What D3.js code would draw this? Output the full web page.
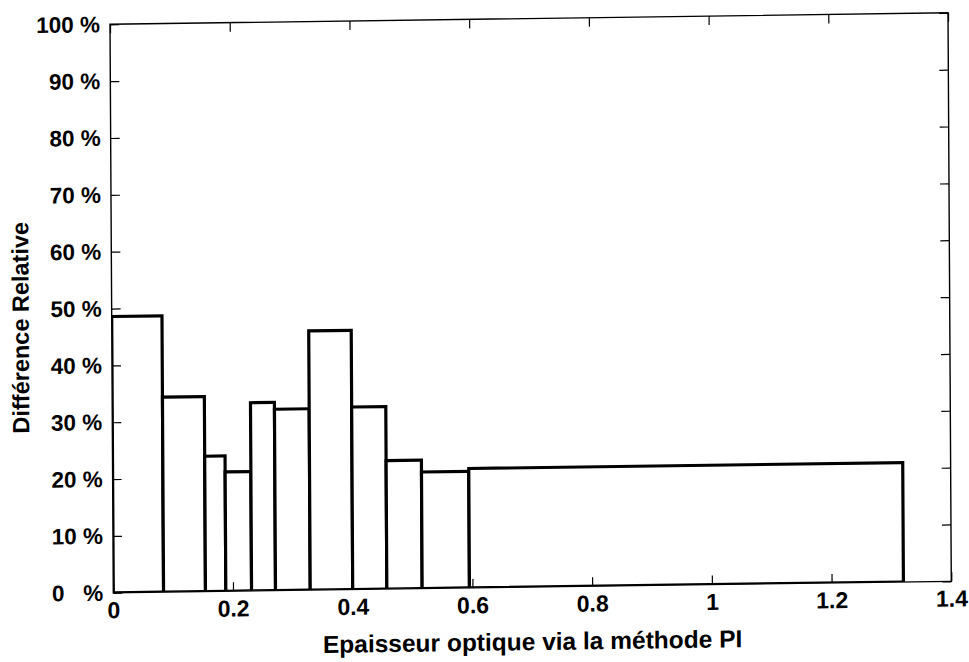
<!DOCTYPE html>
<html>
<head>
<meta charset="utf-8">
<script src="https://cdn.jsdelivr.net/npm/d3@7"></script>
<style>
  html, body { margin: 0; padding: 0; background: #fff; }
  svg { display: block; }
  text { font-family: "Liberation Sans", Arial, Helvetica, sans-serif; font-weight: bold; fill: #000; }
</style>
</head>
<body>
<svg id="chart" width="969" height="662"></svg>
<script>
// ---- data ----
const binStart = [0, 0.084, 0.154, 0.188, 0.231, 0.271, 0.329, 0.400, 0.457, 0.516, 0.595];
const binEnd   = [0.084, 0.154, 0.188, 0.231, 0.271, 0.329, 0.400, 0.457, 0.516, 0.595, 1.32];
const values   = [48.6, 34.3, 23.8, 21.0, 33.1, 31.9, 45.6, 32.1, 22.6, 20.5, 21.0];

const xTicks = [0, 0.2, 0.4, 0.6, 0.8, 1.0, 1.2, 1.4];
const xTickLabels = ["0", "0.2", "0.4", "0.6", "0.8", "1", "1.2", "1.4"];
const yTicks = [0, 10, 20, 30, 40, 50, 60, 70, 80, 90, 100];
const yTickLabels = ["0   %", "10 %", "20 %", "30 %", "40 %", "50 %", "60 %", "70 %", "80 %", "90 %", "100 %"];

const xTitle = "Epaisseur optique via la méthode PI";
const yTitle = "Différence Relative";

// ---- layout ----
const W = 838, H = 568.5;
const svg = d3.select("#chart");
svg.append("rect").attr("width", 969).attr("height", 662).attr("fill", "#fff");

// slight skew/rotation, as in the scanned original
const g = svg.append("g")
  .attr("transform", "matrix(1,-0.0137,0.0058,1,110,24.3)");

const x = d3.scaleLinear().domain([0, 1.4]).range([0, W]);
const y = d3.scaleLinear().domain([0, 100]).range([H, 0]);

g.append("clipPath").attr("id", "plotclip")
  .append("rect").attr("x", 0).attr("y", 0).attr("width", W).attr("height", H);

// bars
const bars = values.map((v, i) => ({ x0: binStart[i], x1: binEnd[i], v }));
g.append("g").attr("clip-path", "url(#plotclip)")
  .selectAll("rect").data(bars).join("rect")
  .attr("x", d => x(d.x0))
  .attr("y", d => y(d.v))
  .attr("width", d => x(d.x1) - x(d.x0))
  .attr("height", d => y(0) - y(d.v))
  .attr("fill", "#fff")
  .attr("stroke", "#000")
  .attr("stroke-width", 3.2);

// frame
g.append("rect").attr("x", 0).attr("y", 0).attr("width", W).attr("height", H)
  .attr("fill", "none").attr("stroke", "#000").attr("stroke-width", 1.4);

const tickLen = 9;
// bottom axis (labels + inward ticks)
const xAxis = d3.axisBottom(x).tickValues(xTicks)
  .tickFormat((d, i) => xTickLabels[i]).tickSize(-tickLen).tickPadding(9);
const gx = g.append("g").attr("transform", `translate(0,${H})`).call(xAxis);
gx.select(".domain").remove();
gx.selectAll("line").attr("stroke", "#000").attr("stroke-width", 1.2);
gx.selectAll("text").attr("font-size", 23).attr("fill", "#000");

// top ticks
const gxt = g.append("g").call(d3.axisTop(x).tickValues(xTicks).tickFormat("").tickSize(-tickLen));
gxt.select(".domain").remove();
gxt.selectAll("line").attr("stroke", "#000").attr("stroke-width", 1.2);

// left axis
const yAxis = d3.axisLeft(y).tickValues(yTicks)
  .tickFormat((d, i) => yTickLabels[i]).tickSize(-tickLen).tickPadding(10);
const gy = g.append("g").call(yAxis);
gy.select(".domain").remove();
gy.selectAll("line").attr("stroke", "#000").attr("stroke-width", 1.2);
gy.selectAll("text").attr("font-size", 22.5).attr("fill", "#000").style("white-space", "pre");

// right ticks
const gyr = g.append("g").attr("transform", `translate(${W},0)`)
  .call(d3.axisRight(y).tickValues(yTicks).tickFormat("").tickSize(-tickLen));
gyr.select(".domain").remove();
gyr.selectAll("line").attr("stroke", "#000").attr("stroke-width", 1.2);

// titles
g.append("text").attr("x", W / 2).attr("y", H + 63)
  .attr("text-anchor", "middle").attr("font-size", 24.5).text(xTitle);
g.append("text").attr("transform", `translate(-83,${H / 2 + 18}) rotate(-90)`)
  .attr("text-anchor", "middle").attr("font-size", 23.5).text(yTitle);
</script>
</body>
</html>
